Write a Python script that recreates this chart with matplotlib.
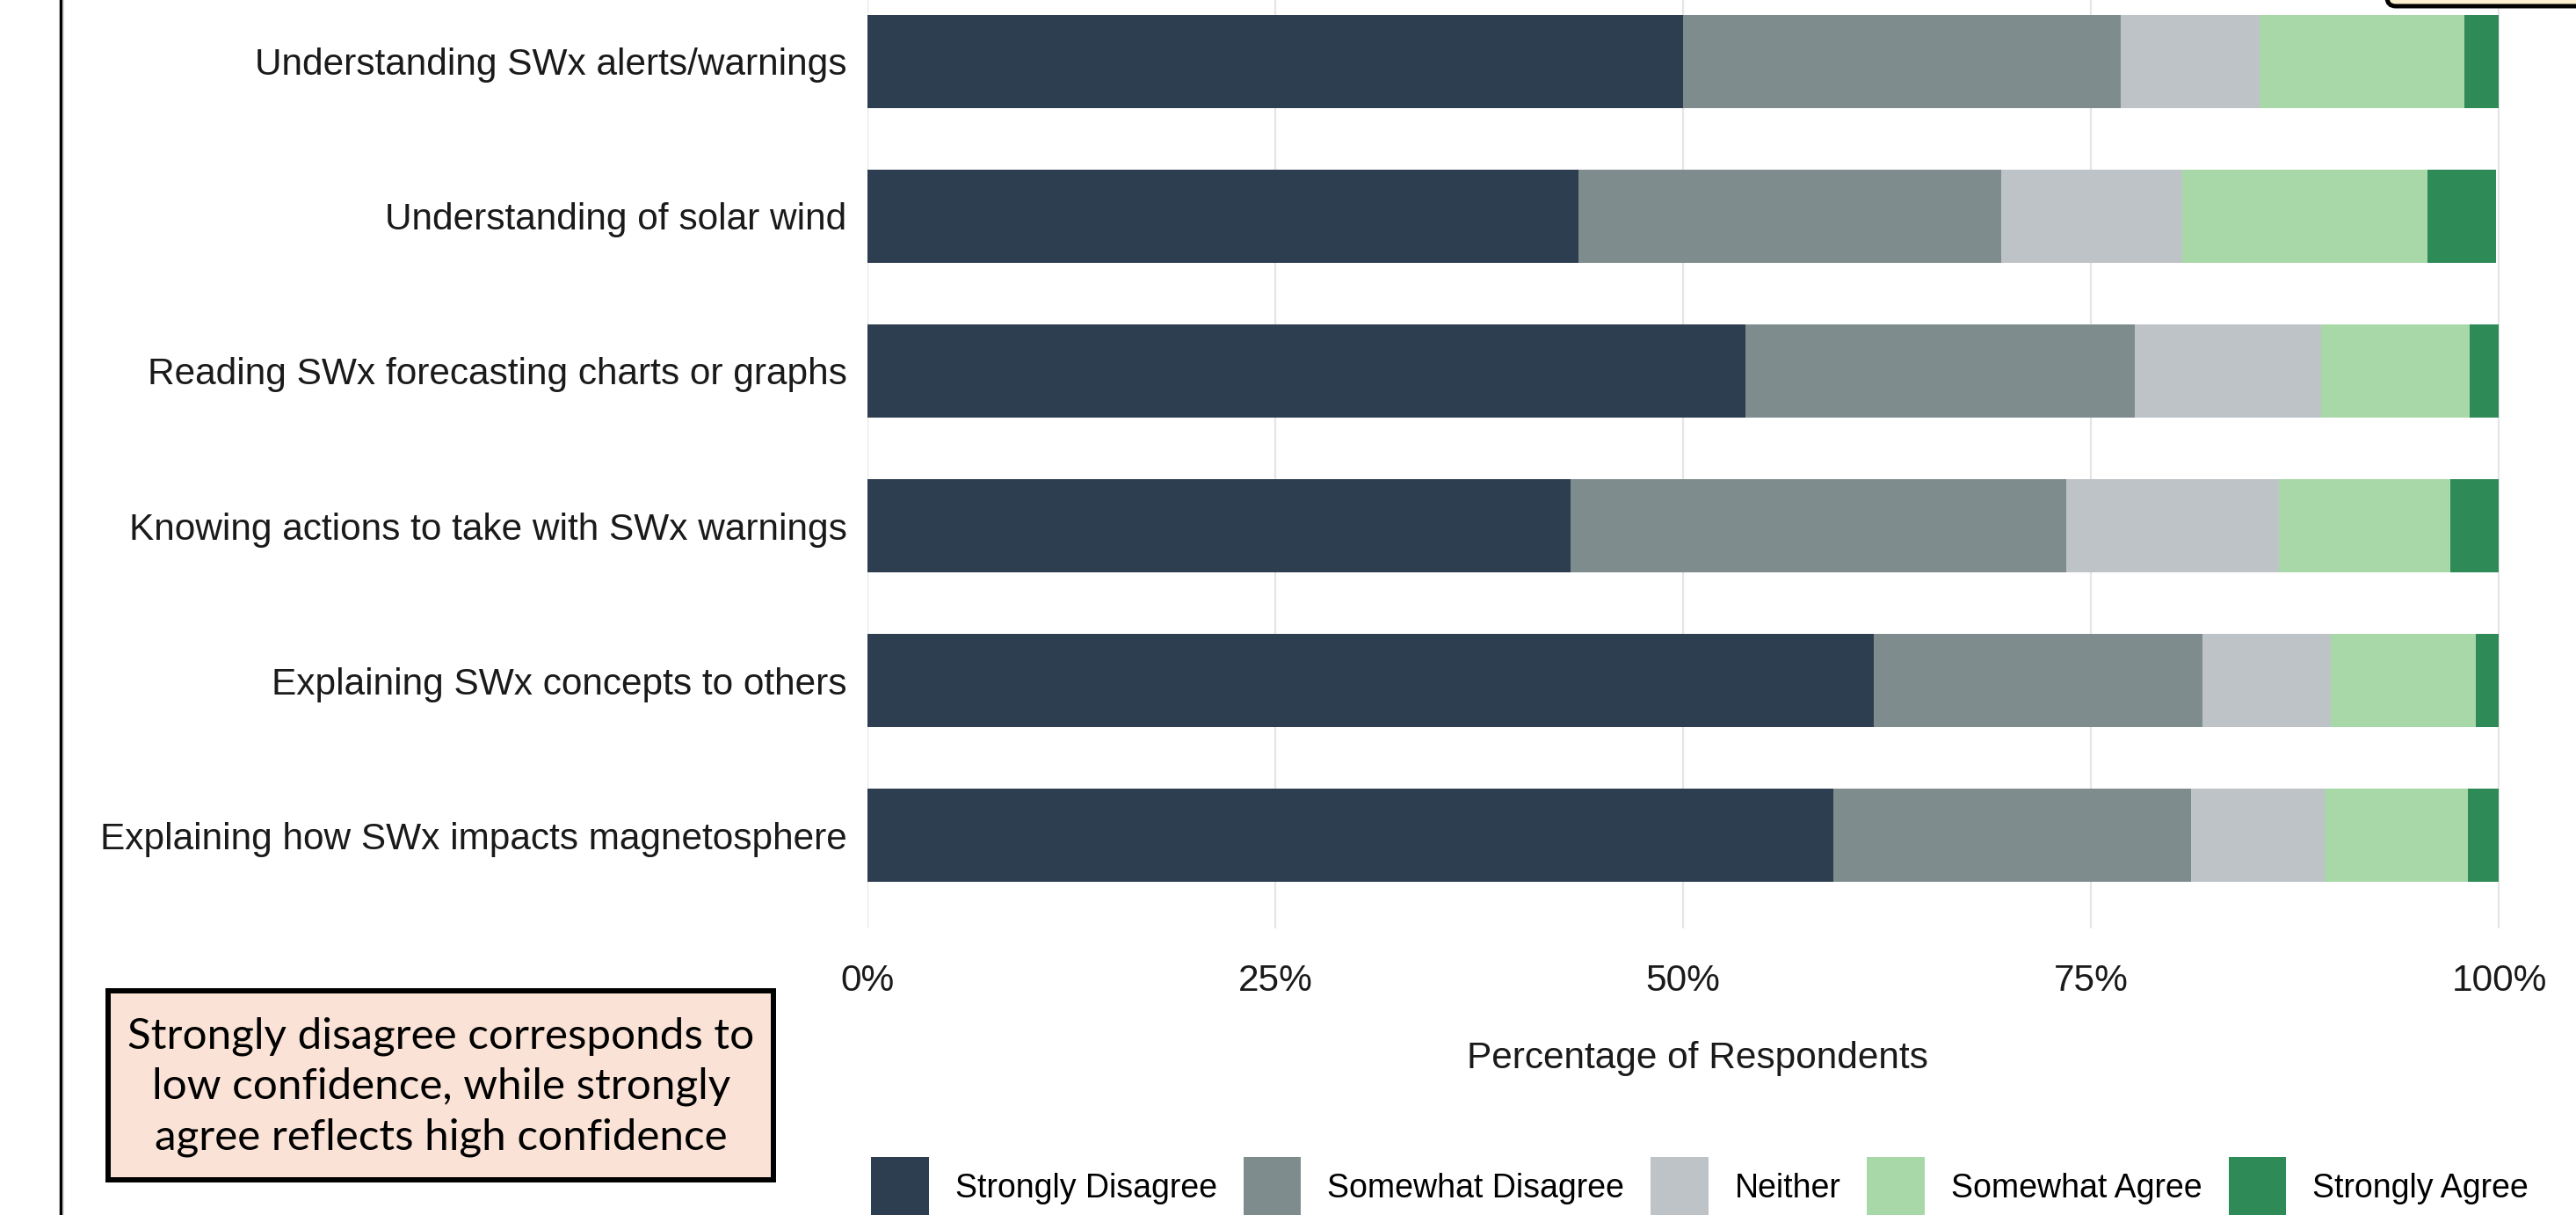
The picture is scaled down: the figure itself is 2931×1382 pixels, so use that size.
import matplotlib.pyplot as plt
from matplotlib.patches import Patch, Rectangle, FancyBboxPatch
from matplotlib.lines import Line2D
from matplotlib.transforms import IdentityTransform
import numpy as np

# survey items, top to bottom
items = [
    "Understanding SWx alerts/warnings",
    "Understanding of solar wind",
    "Reading SWx forecasting charts or graphs",
    "Knowing actions to take with SWx warnings",
    "Explaining SWx concepts to others",
    "Explaining how SWx impacts magnetosphere",
]

responses = ["Strongly Disagree", "Somewhat Disagree", "Neither",
             "Somewhat Agree", "Strongly Agree"]
colors = ["#2C3E50", "#7F8C8D", "#BDC3C7", "#A8D8A8", "#2E8B57"]

# share of respondents (%) per item
strongly_disagree = [50.0, 43.6, 53.8, 43.1, 61.7, 59.2]
somewhat_disagree = [26.8, 25.9, 23.9, 30.4, 20.1, 21.9]
neither = [8.5, 11.1, 11.4, 13.0, 7.9, 8.2]
somewhat_agree = [12.6, 15.0, 9.1, 10.5, 8.9, 8.8]
strongly_agree = [2.1, 4.2, 1.8, 3.0, 1.4, 1.9]

W, H = 2931, 1382
DPI = 100
fig = plt.figure(figsize=(W / DPI, H / DPI), dpi=DPI)
fig.patch.set_facecolor("white")

ax = fig.add_axes([987 / W, 1 - 1056 / H, 1888 / W, (1056 + 36) / H])

shares = [strongly_disagree, somewhat_disagree, neither, somewhat_agree, strongly_agree]
y = np.arange(len(items))
left = np.zeros(len(items))
for vals, col, name in zip(shares, colors, responses):
    vals = np.array(vals) / 100
    ax.barh(y, vals, left=left, height=0.6, color=col, label=name, zorder=2)
    left += vals

ax.set_ylim(len(items) - 0.4, -0.6)
ax.set_xlim(0, 1.017)
ax.set_xticks([0, 0.25, 0.5, 0.75, 1.0])
ax.set_xticklabels(["0%", "25%", "50%", "75%", "100%"])
ax.set_yticks(y)
ax.set_yticklabels(items)
ax.grid(axis="x", color="#E5E5E5", linewidth=1.6, zorder=0)
ax.tick_params(axis="both", length=0, labelsize=30.5, colors="#1a1a1a")
ax.tick_params(axis="y", pad=17)
ax.tick_params(axis="x", pad=28.5)
for lab in ax.get_xticklabels() + ax.get_yticklabels():
    lab.set_fontfamily("Liberation Sans")
for s in ax.spines.values():
    s.set_visible(False)

fig.text(1931 / W, 1 - 1204 / H, "Percentage of Respondents",
         fontsize=30.5, family="Liberation Sans", color="#1a1a1a",
         ha="center", va="center")

# legend along the bottom
handles = [Patch(facecolor=c, edgecolor="none", label=r) for c, r in zip(colors, responses)]
fig.legend(handles=handles, loc="center", bbox_to_anchor=(1934 / W, 1 - 1350 / H),
           ncol=5, frameon=False, prop={"family": "Liberation Sans", "size": 27},
           handlelength=1.75, handleheight=2.4, handletextpad=0.8,
           columnspacing=0.8)

# note box, lower left
px = IdentityTransform()
note = Rectangle((123, 40), 757, 215, transform=px, facecolor="#FAE3D6",
                 edgecolor="black", linewidth=4.3)
fig.patches.append(note)
fig.text(502 / W, 1 - 1236 / H,
         "Strongly disagree corresponds to\nlow confidence, while strongly\nagree reflects high confidence",
         fontsize=35.6, family="Lato", ha="center", va="center", linespacing=1.36)

# edge of the box above the chart
top_box = FancyBboxPatch((2716, 1375), 300, 80, boxstyle="round,pad=0,rounding_size=10",
                         transform=px, facecolor="#FDF0D0", edgecolor="black",
                         linewidth=3.6)
fig.patches.append(top_box)

# border at the left edge
fig.add_artist(Line2D([68.5, 68.5], [0, H], transform=px, color="black", linewidth=2.5))
fig.add_artist(Line2D([71.5, 71.5], [0, H], transform=px, color="#C8C8C8", linewidth=1.1))

fig.savefig("out.png", dpi=DPI)
